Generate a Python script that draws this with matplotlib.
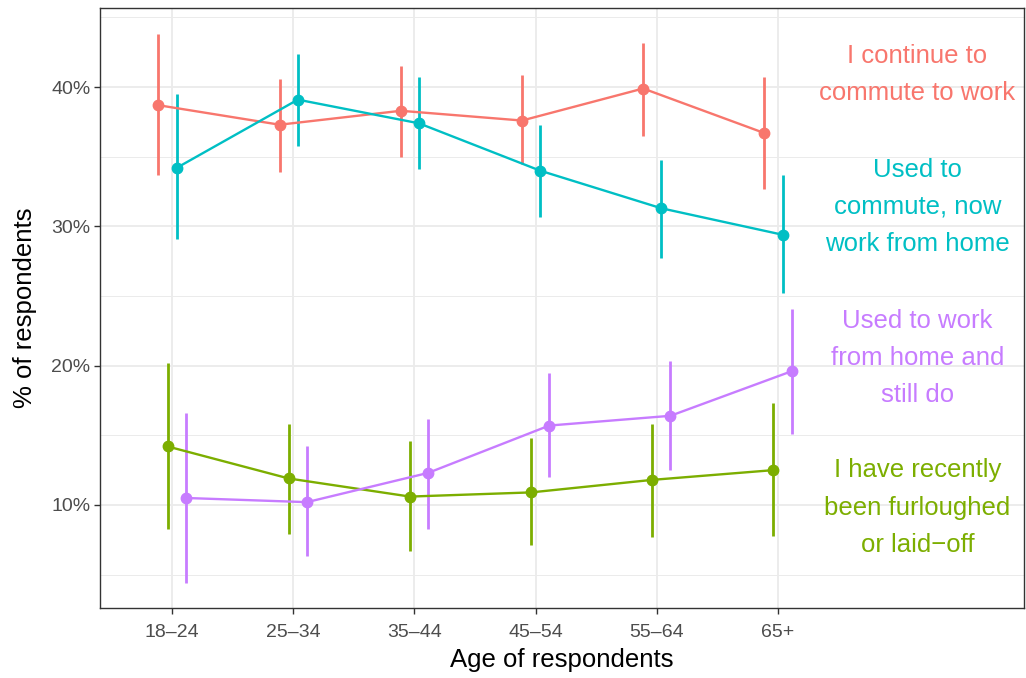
import matplotlib
matplotlib.use("Agg")
import matplotlib.pyplot as plt
import numpy as np
from matplotlib.ticker import FixedLocator, FuncFormatter

plt.rcParams['font.family'] = ['Liberation Sans', 'DejaVu Sans']

# categories and series (values in %)
ages = ["18\u201324", "25\u201334", "35\u201344", "45\u201354", "55\u201364", "65+"]

commute = [38.7, 37.3, 38.3, 37.6, 39.9, 36.7]
commute_lo = [33.7, 33.9, 35.0, 34.5, 36.5, 32.7]
commute_hi = [43.8, 40.6, 41.5, 40.9, 43.2, 40.7]

furlough = [14.2, 11.9, 10.6, 10.9, 11.8, 12.5]
furlough_lo = [8.3, 7.9, 6.7, 7.1, 7.7, 7.8]
furlough_hi = [20.2, 15.8, 14.6, 14.8, 15.8, 17.3]

wfh_now = [34.2, 39.1, 37.4, 34.0, 31.3, 29.4]
wfh_now_lo = [29.1, 35.8, 34.1, 30.7, 27.7, 25.2]
wfh_now_hi = [39.5, 42.4, 40.7, 37.3, 34.8, 33.7]

wfh_still = [10.5, 10.2, 12.3, 15.7, 16.4, 19.6]
wfh_still_lo = [4.4, 6.3, 8.3, 12.0, 12.5, 15.1]
wfh_still_hi = [16.6, 14.2, 16.2, 19.5, 20.3, 24.1]

labels = ["I continue to\ncommute to work",
          "I have recently\nbeen furloughed\nor laid\u2212off",
          "Used to\ncommute, now\nwork from home",
          "Used to work\nfrom home and\nstill do"]
colors = ["#F8766D", "#7CAE00", "#00BFC4", "#C77CFF"]
label_y = [40.9, 9.8, 31.4, 20.55]

series = [(commute, commute_lo, commute_hi),
          (furlough, furlough_lo, furlough_hi),
          (wfh_now, wfh_now_lo, wfh_now_hi),
          (wfh_still, wfh_still_lo, wfh_still_hi)]
dodge = [-0.1125, -0.0375, 0.0375, 0.1125]

fig = plt.figure(figsize=(10.26, 6.78), dpi=100)
ax = fig.add_axes([100/1026, 70/678, 924/1026, 600/678])

x = np.arange(len(ages))
for (vals, lo, hi), col, d, lab, ly in zip(series, colors, dodge, labels, label_y):
    xs = x + d
    ax.vlines(xs, lo, hi, color=col, lw=2.0, zorder=3)
    ax.plot(xs, vals, color=col, lw=1.7, marker='o', ms=7.5, zorder=4)
    ax.text(6.15, ly, lab, color=col, ha='center', va='center',
            fontsize=18.5, linespacing=1.7)

ax.set_xlim(-0.595, 7.03)
ax.set_ylim(2.6, 45.68)
ax.set_xticks(x)
ax.set_xticklabels(ages)
ax.yaxis.set_major_locator(FixedLocator([10, 20, 30, 40]))
ax.yaxis.set_minor_locator(FixedLocator([5, 15, 25, 35, 45]))
ax.yaxis.set_major_formatter(FuncFormatter(lambda v, p: f"{v:.0f}%"))

ax.grid(True, which='major', color='#EBEBEB', lw=1.3, zorder=0)
ax.grid(True, which='minor', axis='y', color='#EBEBEB', lw=0.7, zorder=0)
ax.set_axisbelow(True)
for s in ax.spines.values():
    s.set_color('#333333')
    s.set_linewidth(1.0)
ax.tick_params(axis='both', which='major', length=4, width=1.0, color='#333333',
               labelsize=14, labelcolor='#4D4D4D', pad=3)
ax.tick_params(axis='x', which='major', pad=7.5)
ax.tick_params(axis='y', which='minor', length=0)

ax.set_xlabel("Age of respondents", fontsize=18.5, labelpad=5)
ax.set_ylabel("% of respondents", fontsize=18.5, labelpad=10)

fig.savefig("out.png", dpi=100)
